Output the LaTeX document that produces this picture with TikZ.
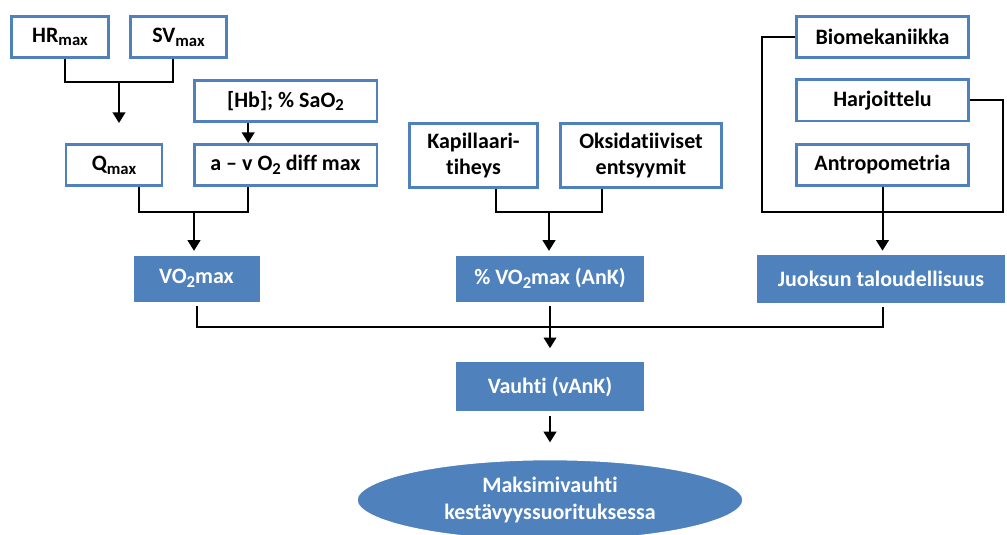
\documentclass[tikz,border=0pt]{standalone}
\usepackage{fontspec}
\setmainfont{Carlito}[Ligatures=NoCommon]
\usepackage{xcolor}
\usepackage{tikz}
\usetikzlibrary{shapes.geometric,arrows.meta,positioning,calc,shadows}
\definecolor{boxblue}{HTML}{4F81BD}
\definecolor{lineblk}{HTML}{000000}
\newcommand{\alaind}[1]{\raisebox{-0.35ex}{\fontsize{12.5}{12.5}\selectfont #1}}

\begin{document}
\begin{tikzpicture}[
    x=0.75pt, y=-0.75pt,
    wbox/.style={rectangle, draw=boxblue, line width=2pt, fill=white, text=black,
                 align=center, inner sep=0pt,
                 font=\bfseries\fontsize{16.5}{20}\selectfont},
    bbox/.style={rectangle, draw=white, line width=3.5pt, fill=boxblue, text=white,
                 align=center, inner sep=0pt,
                 font=\bfseries\fontsize{16.5}{20}\selectfont,
                 drop shadow={shadow xshift=0.6pt, shadow yshift=-0.8pt, opacity=0.3, fill=black}},
    link/.style={line width=1.5pt, color=lineblk},
    arrow/.style={-{Triangle[width=9.5pt,length=8pt]}, line width=1.5pt, color=lineblk},
]
\useasboundingbox (0,0) rectangle (1007,535);
\clip (0,0) rectangle (1007,535);

% ylin rivi
\node[wbox,minimum width=73pt,minimum height=31pt] (hr) at (60,37) {HR\alaind{max}};
\node[wbox,minimum width=72pt,minimum height=31pt] (sv) at (178.5,37) {SV\alaind{max}};
\node[wbox,minimum width=137pt,minimum height=31pt] (hb) at (285.5,101) {[Hb]; \% SaO\alaind{2}};
\node[wbox,minimum width=72pt,minimum height=31pt] (qmax) at (114,165) {Q\alaind{max}};
\node[wbox,minimum width=137pt,minimum height=31pt] (avdiff) at (285.5,165) {a -- v O\alaind{2} diff max};

\node[wbox,minimum width=96pt,minimum height=48pt] (kap) at (473.5,155.5) {Kapillaari-\\tiheys};
\node[wbox,minimum width=121pt,minimum height=48pt] (oks) at (641,155.5) {Oksidatiiviset\\entsyymit};

\node[wbox,minimum width=129pt,minimum height=31pt] (bio) at (882.5,37) {Biomekaniikka};
\node[wbox,minimum width=129pt,minimum height=31pt] (harj) at (882.5,100.5) {Harjoittelu};
\node[wbox,minimum width=129pt,minimum height=31pt] (antro) at (882.5,165) {Antropometria};

% sinisiä
\node[bbox,minimum width=98pt,minimum height=38pt] (vo2) at (196.5,278.5) {VO\alaind{2}max};
\node[bbox,minimum width=144pt,minimum height=38pt] (pvo2) at (550,278.5) {\% VO\alaind{2}max (AnK)};
\node[bbox,minimum width=189pt,minimum height=39pt] (juok) at (881,279) {Juoksun taloudellisuus};
\node[bbox,minimum width=144pt,minimum height=40pt] (vauhti) at (550,386.5) {Vauhti (vAnK)};
\node[bbox,ellipse,minimum width=292pt,minimum height=63pt] (maks) at (550,500) {Maksimivauhti\\kestävyyssuorituksessa};

\coordinate (qjoin) at (119,82);
\coordinate (vjoin) at (194,212);
\coordinate (pjoin) at (549,212);
\coordinate (ecoL) at (762,212);
\coordinate (ecoR) at (1003,212);
\coordinate (sjoin) at (549,327);

\draw[link] ([xshift=4pt]hr.south) |- (qjoin) -| ([xshift=-4pt]sv.south);
\draw[arrow,shorten >=15pt] (qjoin) -- (qjoin |- qmax.north);
\draw[arrow] ([xshift=-28pt]hb.south) -- ([xshift=-28pt]hb.south |- avdiff.north);
\draw[link] ([xshift=19pt]qmax.south) |- (vjoin) -| ([xshift=-28pt]avdiff.south);
\draw[arrow] (vjoin) -- (vjoin |- vo2.north);

\draw[link] ([xshift=17pt]kap.south) |- (pjoin) -| ([xshift=-29pt]oks.south);
\draw[arrow] (pjoin) -- (pjoin |- pvo2.north);

\draw[link] (bio.west) -| (ecoL) -- (ecoR) |- (harj.east);
\draw[arrow] (antro.south) -- (antro.south |- juok.north);

\draw[link] (vo2.south) |- (sjoin) -| ([xshift=1.5pt]juok.south);
\draw[arrow,shorten >=7pt] (pvo2.south) -- (vauhti.north);
\draw[arrow,shorten >=10pt] (vauhti.south) -- (maks.north);

\end{tikzpicture}
\end{document}
